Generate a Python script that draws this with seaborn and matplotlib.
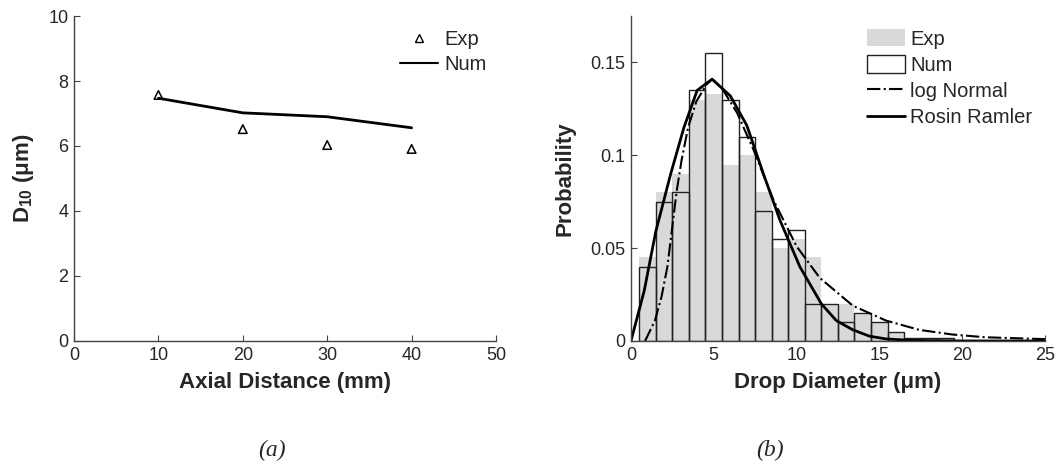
import numpy as np
import pandas as pd
import matplotlib
matplotlib.use('Agg')
import matplotlib.pyplot as plt
import seaborn as sns
from matplotlib.patches import Patch
from matplotlib.lines import Line2D

# panel (a): D10 along the axis
axial_mm = [10, 20, 30, 40]
d10_exp = [7.57, 6.52, 6.03, 5.91]
d10_num = [7.47, 7.02, 6.90, 6.56]

# panel (b): drop size histograms, 1 um bins centred on integers
bin_centers = list(range(1, 20))
prob_exp = [0.045, 0.08, 0.09, 0.13, 0.133, 0.095, 0.10, 0.08, 0.05, 0.055,
            0.045, 0.02, 0.02, 0.015, 0.01, 0.005, 0.0015, 0.0015, 0.0015]
prob_num = [0.04, 0.075, 0.08, 0.135, 0.155, 0.13, 0.11, 0.07, 0.055, 0.06,
            0.02, 0.02, 0.01, 0.015, 0.01, 0.005, 0.0015, 0.0015, 0.0015]

# fitted curves
rr_d = [0, 0.8, 1.5, 2.4, 3.2, 4.0, 4.9, 6.0, 7.0, 8.0, 9.0, 10.2, 11.5,
        12.4, 13.4, 14.4, 15.4, 17, 20, 25]
rr_p = [0, 0.027, 0.059, 0.090, 0.115, 0.135, 0.141, 0.132, 0.116, 0.090,
        0.065, 0.040, 0.020, 0.011, 0.006, 0.0026, 0.0011, 0.0003, 0, 0]
ln_d = [0.85, 1.45, 1.85, 2.2, 2.45, 2.75, 3.05, 3.45, 3.95, 4.55, 4.9, 5.5,
        6.4, 7.4, 8.6, 10.0, 11.4, 13.4, 15.4, 17.4, 19.4, 21.4, 25]
ln_p = [0, 0.011, 0.024, 0.040, 0.058, 0.080, 0.097, 0.115, 0.129, 0.138,
        0.141, 0.136, 0.123, 0.103, 0.076, 0.051, 0.034, 0.019, 0.011, 0.006,
        0.0035, 0.002, 0.001]

hist_df = pd.DataFrame({'d': bin_centers, 'exp': prob_exp, 'num': prob_num})

sns.set_style('ticks')
plt.rcParams['font.family'] = ['Liberation Sans', 'DejaVu Sans']
plt.rcParams['mathtext.fontset'] = 'custom'
plt.rcParams['mathtext.rm'] = 'Liberation Sans'
plt.rcParams['mathtext.bf'] = 'Liberation Sans:bold'
plt.rcParams['xtick.direction'] = 'in'
plt.rcParams['ytick.direction'] = 'in'

fig = plt.figure(figsize=(10.56, 4.68), dpi=100)
ax1 = fig.add_axes([0.0701, 0.2714, 0.3996, 0.6944])
ax2 = fig.add_axes([0.5975, 0.2714, 0.3920, 0.6944])

spine_col = '#444444'
for a in (ax1, ax2):
    sns.despine(ax=a)
    for s in ('left', 'bottom'):
        a.spines[s].set_color(spine_col)
        a.spines[s].set_linewidth(1.0)
    a.tick_params(labelsize=13, length=4, color=spine_col, pad=4)

# (a)
sns.scatterplot(x=axial_mm, y=d10_exp, ax=ax1, marker='^', s=38,
                facecolor='none', edgecolor='black', linewidth=1.1, zorder=3)
sns.lineplot(x=axial_mm, y=d10_num, ax=ax1, color='black', linewidth=2)
ax1.set_xlim(0, 50)
ax1.set_ylim(0, 10)
ax1.set_xticks([0, 10, 20, 30, 40, 50])
ax1.set_yticks([0, 2, 4, 6, 8, 10])
ax1.set_xlabel('Axial Distance (mm)', fontsize=16, fontweight='bold')
ax1.set_ylabel(r'$\mathbf{D_{10}}$ (μm)', fontsize=16, fontweight='bold')
ax1.xaxis.set_label_coords(0.5, -0.094)
ax1.yaxis.set_label_coords(-0.0905, 0.5)
h1 = [Line2D([], [], marker='^', linestyle='none', markerfacecolor='none',
             markeredgecolor='black', markersize=6),
      Line2D([], [], color='black', linewidth=1.5)]
ax1.legend(h1, ['Exp', 'Num'], loc='upper left', bbox_to_anchor=(0.7725, 0.957),
           frameon=False, fontsize=14.5, handlelength=1.9, handletextpad=0.3,
           labelspacing=0.3, borderaxespad=0, borderpad=0)

# (b)
edges = list(np.arange(0.5, 20.5, 1))
sns.histplot(data=hist_df, x='d', weights='exp', bins=edges, ax=ax2,
             color='#d9d9d9', alpha=1, edgecolor='none', linewidth=0)
sns.histplot(data=hist_df, x='d', weights='num', bins=edges, ax=ax2,
             fill=False, color='#222222', edgecolor='#222222', linewidth=1)
sns.lineplot(x=ln_d, y=ln_p, ax=ax2, color='black', linewidth=1.5,
             linestyle='-.')
sns.lineplot(x=rr_d, y=rr_p, ax=ax2, color='black', linewidth=2)
ax2.set_xlim(0, 25)
ax2.set_ylim(0, 0.175)
ax2.set_xticks([0, 5, 10, 15, 20, 25])
ax2.set_yticks([0, 0.05, 0.1, 0.15])
ax2.set_yticklabels(['0', '0.05', '0.1', '0.15'])
ax2.set_xlabel('Drop Diameter (μm)', fontsize=16, fontweight='bold')
ax2.set_ylabel('Probability', fontsize=16, fontweight='bold')
ax2.xaxis.set_label_coords(0.5, -0.094)
ax2.yaxis.set_label_coords(-0.135, 0.5)
h2 = [Patch(facecolor='#d9d9d9', edgecolor='none'),
      Patch(facecolor='white', edgecolor='#222222', linewidth=1),
      Line2D([], [], color='black', linewidth=1.5, linestyle='-.'),
      Line2D([], [], color='black', linewidth=2)]
ax2.legend(h2, ['Exp', 'Num', 'log Normal', 'Rosin Ramler'], loc='upper left',
           bbox_to_anchor=(0.570, 0.96), frameon=False, fontsize=14.5,
           handlelength=1.9, handleheight=0.95, handletextpad=0.25,
           labelspacing=0.33, borderaxespad=0, borderpad=0)

fig.text(0.2576, 0.038, '(a)', family='Liberation Serif', style='italic',
         fontsize=17, ha='center', va='center')
fig.text(0.729, 0.038, '(b)', family='Liberation Serif', style='italic',
         fontsize=17, ha='center', va='center')

fig.savefig('out.png', dpi=100)
